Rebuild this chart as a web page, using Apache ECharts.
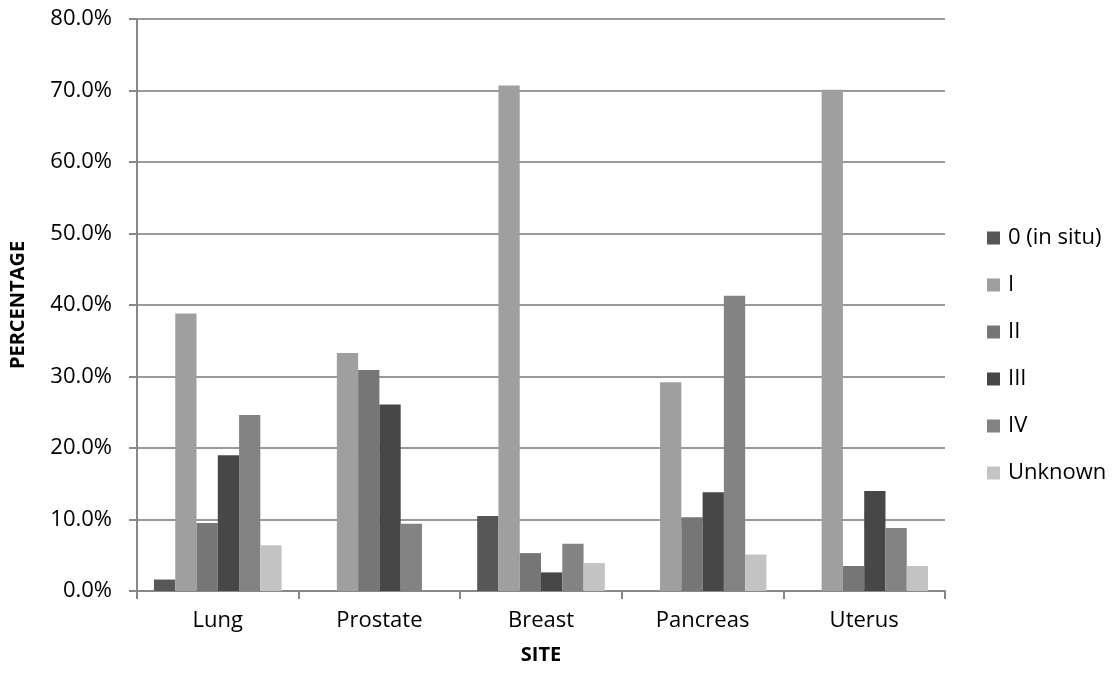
<!DOCTYPE html>
<html>
<head>
<meta charset="utf-8">
<title>Cancer stage distribution by site</title>
<script src="https://cdn.jsdelivr.net/npm/echarts@6/dist/echarts.min.js"></script>
<style>
  html, body { margin: 0; padding: 0; background: #ffffff; }
  #chart { width: 1116px; height: 676px; }
</style>
</head>
<body>
<div id="chart"></div>
<script>
// Primary sites along the x axis
const sites = ['Lung', 'Prostate', 'Breast', 'Pancreas', 'Uterus'];

// Share of cases at each stage, per site (fractions of 1)
const stage0 = [0.016, 0, 0.105, 0, 0];
const stageI = [0.388, 0.333, 0.707, 0.292, 0.701];
const stageII = [0.095, 0.309, 0.053, 0.103, 0.035];
const stageIII = [0.190, 0.261, 0.026, 0.138, 0.140];
const stageIV = [0.246, 0.094, 0.066, 0.413, 0.088];
const stageUnknown = [0.064, 0, 0.039, 0.051, 0.035];

const seriesNames = ['0 (in situ)', 'I', 'II', 'III', 'IV', 'Unknown'];
const seriesData = [stage0, stageI, stageII, stageIII, stageIV, stageUnknown];
const seriesColors = ['#575757', '#9f9f9f', '#767676', '#474747', '#838383', '#c3c3c3'];

const FONT = '"Open Sans", sans-serif';
const AXIS_GRAY = '#888888';

const chart = echarts.init(document.getElementById('chart'), null, { renderer: 'canvas' });

chart.setOption({
  animation: false,
  backgroundColor: '#ffffff',
  textStyle: { fontFamily: FONT, color: '#000000' },
  grid: { left: 137, right: 171, top: 19, bottom: 85, containLabel: false },
  legend: {
    orient: 'vertical',
    left: 982,
    top: 221,
    itemWidth: 13,
    itemHeight: 13,
    itemGap: 23,
    icon: 'rect',
    data: seriesNames,
    textStyle: { fontFamily: FONT, fontSize: 22, color: '#000000', lineHeight: 24, padding: [0, 0, 0, 3] }
  },
  xAxis: {
    type: 'category',
    data: sites,
    name: 'SITE',
    nameLocation: 'middle',
    nameGap: 54,
    nameTextStyle: { fontFamily: FONT, fontSize: 20, fontWeight: 'bold', color: '#000000' },
    axisLine: { lineStyle: { color: AXIS_GRAY, width: 2 } },
    axisTick: { show: true, inside: false, length: 8, alignWithLabel: false, lineStyle: { color: AXIS_GRAY, width: 2 } },
    axisLabel: { fontFamily: FONT, fontSize: 22, color: '#000000', margin: 19 }
  },
  yAxis: {
    type: 'value',
    min: 0,
    max: 0.8,
    interval: 0.1,
    name: 'PERCENTAGE',
    nameLocation: 'middle',
    nameGap: 109,
    nameTextStyle: { fontFamily: FONT, fontSize: 20, fontWeight: 'bold', color: '#000000' },
    axisLine: { show: true, lineStyle: { color: AXIS_GRAY, width: 2 } },
    axisTick: { show: true, inside: false, length: 8, lineStyle: { color: AXIS_GRAY, width: 2 } },
    splitLine: { show: true, lineStyle: { color: '#9a9a9a', width: 2 } },
    axisLabel: {
      fontFamily: FONT,
      fontSize: 22,
      color: '#000000',
      margin: 25,
      formatter: v => (v * 100).toFixed(1) + '%'
    }
  },
  series: seriesNames.map((name, i) => ({
    name: name,
    type: 'bar',
    data: seriesData[i],
    barGap: '0%',
    barCategoryGap: '21%',
    itemStyle: { color: seriesColors[i] }
  }))
});
</script>
</body>
</html>
